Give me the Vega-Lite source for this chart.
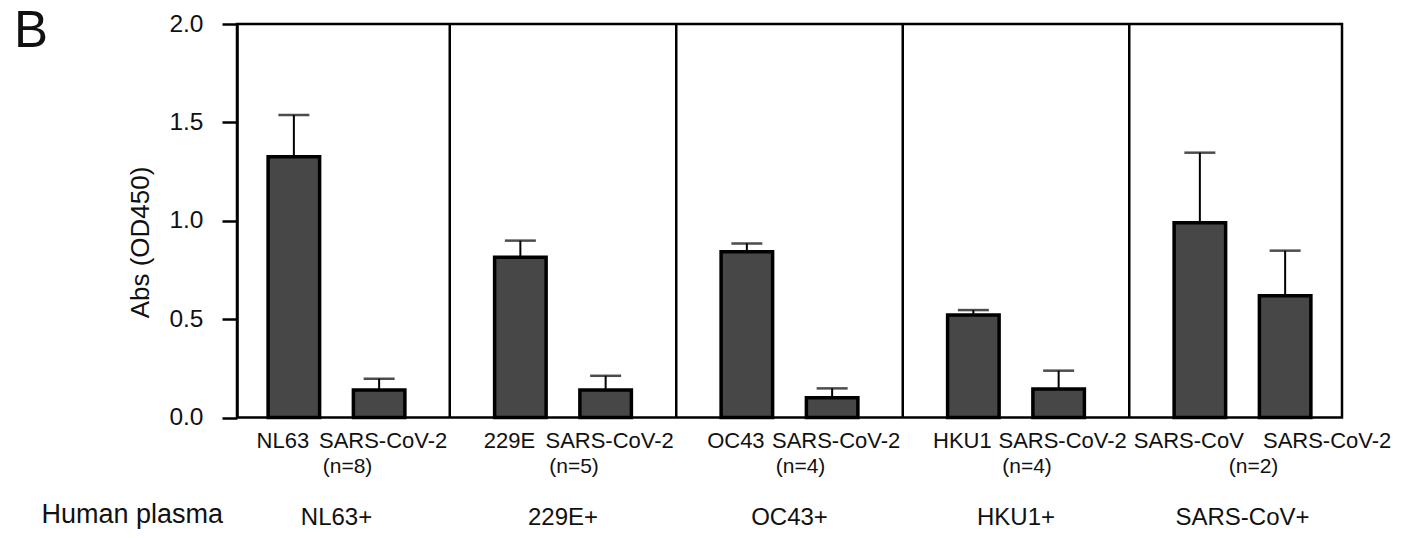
{
  "$schema": "https://vega.github.io/schema/vega-lite/v6.json",
  "width": 1105,
  "height": 393.5,
  "autosize": {"type": "none"},
  "padding": {"left": 237, "top": 24, "right": 79, "bottom": 120.5},
  "background": "white",
  "config": {
    "font": "Liberation Sans",
    "view": {"stroke": "black", "strokeWidth": 2.5}
  },
  "title": {
    "text": "B",
    "anchor": "start",
    "frame": "group",
    "fontSize": 51,
    "fontWeight": "normal",
    "color": "#111",
    "baseline": "alphabetic",
    "offset": 0,
    "dx": -223,
    "dy": 87
  },
  "data": {
    "values": [
      {"group": "NL63+", "type": "Homologous", "antigen": "NL63", "mean": 1.325, "upper": 1.537, "n": "(n=8)"},
      {"group": "NL63+", "type": "SARS-CoV-2", "antigen": "SARS-CoV-2", "mean": 0.14, "upper": 0.197, "n": "(n=8)"},
      {"group": "229E+", "type": "Homologous", "antigen": "229E", "mean": 0.814, "upper": 0.899, "n": "(n=5)"},
      {"group": "229E+", "type": "SARS-CoV-2", "antigen": "SARS-CoV-2", "mean": 0.14, "upper": 0.212, "n": "(n=5)"},
      {"group": "OC43+", "type": "Homologous", "antigen": "OC43", "mean": 0.843, "upper": 0.885, "n": "(n=4)"},
      {"group": "OC43+", "type": "SARS-CoV-2", "antigen": "SARS-CoV-2", "mean": 0.101, "upper": 0.148, "n": "(n=4)"},
      {"group": "HKU1+", "type": "Homologous", "antigen": "HKU1", "mean": 0.521, "upper": 0.546, "n": "(n=4)"},
      {"group": "HKU1+", "type": "SARS-CoV-2", "antigen": "SARS-CoV-2", "mean": 0.145, "upper": 0.238, "n": "(n=4)"},
      {"group": "SARS-CoV+", "type": "Homologous", "antigen": "SARS-CoV", "mean": 0.99, "upper": 1.346, "n": "(n=2)"},
      {"group": "SARS-CoV+", "type": "SARS-CoV-2", "antigen": "SARS-CoV-2", "mean": 0.619, "upper": 0.848, "n": "(n=2)"}
    ]
  },
  "layer": [
    {
      "mark": {"type": "bar", "fill": "#474747", "stroke": "black", "strokeWidth": 3.5},
      "encoding": {
        "x": {
          "field": "group", "type": "nominal",
          "scale": {"domain": ["NL63+", "229E+", "OC43+", "HKU1+", "SARS-CoV+"], "range": [-13.75, 1118.75], "paddingInner": 0, "paddingOuter": 0},
          "axis": {
            "title": "Human plasma",
            "titleFontSize": 27, "titleFontWeight": "normal", "titleColor": "#111",
            "titleX": -196, "titleY": 104.5, "titleAlign": "left", "titleBaseline": "alphabetic", "titleAngle": 0,
            "labelAngle": 0, "labelFontSize": 24, "labelColor": "#111",
            "labelBaseline": "alphabetic", "labelPadding": 107,
            "ticks": false, "tickSize": 0,
            "domain": false
          }
        },
        "xOffset": {
          "field": "type", "type": "nominal",
          "scale": {"domain": ["Homologous", "SARS-CoV-2"], "paddingInner": 0.396, "paddingOuter": 0.526}
        },
        "y": {
          "field": "mean", "type": "quantitative",
          "scale": {"domain": [0, 2], "nice": false, "zero": true},
          "axis": {
            "title": "Abs (OD450)",
            "titleFontSize": 26, "titleFontWeight": "normal", "titleColor": "#111",
            "titleX": -97, "titleY": 218, "titleAngle": -90, "titleAlign": "center", "titleBaseline": "middle",
            "values": [0, 0.5, 1, 1.5, 2], "format": ".1f",
            "labelFontSize": 24.5, "labelColor": "#111", "labelPadding": 19,
            "tickSize": 15, "tickWidth": 2.5, "tickColor": "black",
            "domainColor": "black", "domainWidth": 2.5, "grid": false
          }
        }
      }
    },
    {
      "mark": {"type": "rule", "color": "black", "strokeWidth": 2},
      "encoding": {
        "x": {"field": "group", "type": "nominal", "scale": {"domain": ["NL63+", "229E+", "OC43+", "HKU1+", "SARS-CoV+"]}},
        "xOffset": {"field": "type", "type": "nominal", "scale": {"domain": ["Homologous", "SARS-CoV-2"]}},
        "y": {"field": "mean", "type": "quantitative"},
        "y2": {"field": "upper"}
      }
    },
    {
      "mark": {"type": "tick", "color": "black", "size": 31, "thickness": 2.5, "orient": "horizontal"},
      "encoding": {
        "x": {"field": "group", "type": "nominal", "scale": {"domain": ["NL63+", "229E+", "OC43+", "HKU1+", "SARS-CoV+"]}},
        "xOffset": {"field": "type", "type": "nominal", "scale": {"domain": ["Homologous", "SARS-CoV-2"]}},
        "y": {"field": "upper", "type": "quantitative"}
      }
    },
    {
      "transform": [{"filter": "datum.type == 'Homologous' && datum.group != 'NL63+'"}],
      "mark": {"type": "rule", "color": "black", "strokeWidth": 2.5},
      "encoding": {
        "x": {"field": "group", "type": "nominal", "bandPosition": 0, "scale": {"domain": ["NL63+", "229E+", "OC43+", "HKU1+", "SARS-CoV+"]}}
      }
    },
    {
      "transform": [{"filter": "datum.type == 'Homologous'"}],
      "mark": {"type": "text", "fontSize": 22, "color": "#111", "baseline": "alphabetic", "align": "center", "dy": 30.5, "dx": -11},
      "encoding": {
        "x": {"field": "group", "type": "nominal", "scale": {"domain": ["NL63+", "229E+", "OC43+", "HKU1+", "SARS-CoV+"]}},
        "xOffset": {"field": "type", "type": "nominal", "scale": {"domain": ["Homologous", "SARS-CoV-2"]}},
        "y": {"datum": 0, "type": "quantitative"},
        "text": {"field": "antigen"}
      }
    },
    {
      "transform": [{"filter": "datum.type == 'SARS-CoV-2' && datum.group != 'SARS-CoV+'"}],
      "mark": {"type": "text", "fontSize": 22, "color": "#111", "baseline": "alphabetic", "align": "center", "dy": 30.5, "dx": 4},
      "encoding": {
        "x": {"field": "group", "type": "nominal", "scale": {"domain": ["NL63+", "229E+", "OC43+", "HKU1+", "SARS-CoV+"]}},
        "xOffset": {"field": "type", "type": "nominal", "scale": {"domain": ["Homologous", "SARS-CoV-2"]}},
        "y": {"datum": 0, "type": "quantitative"},
        "text": {"field": "antigen"}
      }
    },
    {
      "transform": [{"filter": "datum.type == 'SARS-CoV-2' && datum.group == 'SARS-CoV+'"}],
      "mark": {"type": "text", "fontSize": 22, "color": "#111", "baseline": "alphabetic", "align": "center", "dy": 30.5, "dx": 42},
      "encoding": {
        "x": {"field": "group", "type": "nominal", "scale": {"domain": ["NL63+", "229E+", "OC43+", "HKU1+", "SARS-CoV+"]}},
        "xOffset": {"field": "type", "type": "nominal", "scale": {"domain": ["Homologous", "SARS-CoV-2"]}},
        "y": {"datum": 0, "type": "quantitative"},
        "text": {"field": "antigen"}
      }
    },
    {
      "transform": [{"filter": "datum.type == 'Homologous'"}],
      "mark": {"type": "text", "fontSize": 21, "color": "#111", "baseline": "alphabetic", "align": "center", "dy": 55.5, "dx": 11},
      "encoding": {
        "x": {"field": "group", "type": "nominal", "scale": {"domain": ["NL63+", "229E+", "OC43+", "HKU1+", "SARS-CoV+"]}},
        "y": {"datum": 0, "type": "quantitative"},
        "text": {"field": "n"}
      }
    }
  ]
}
